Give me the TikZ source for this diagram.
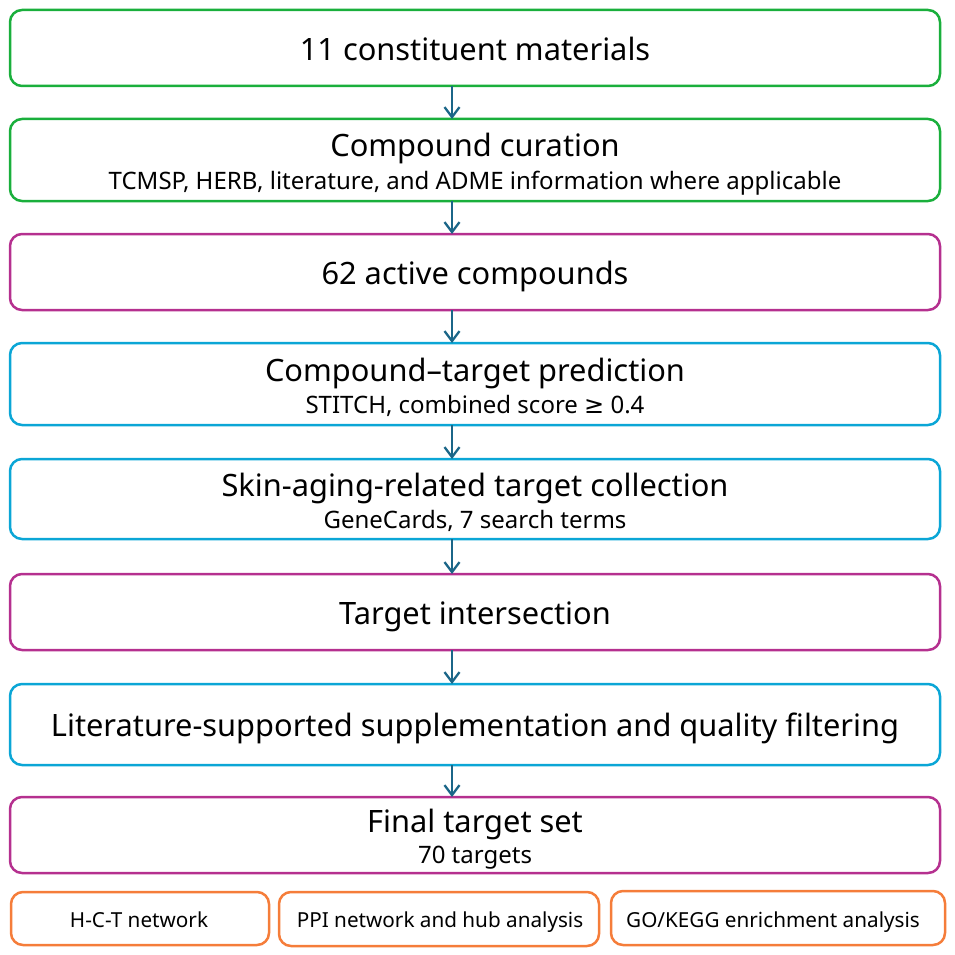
\documentclass[tikz,border=0pt]{standalone}
\usepackage{fontspec}
\setmainfont{Noto Sans}
\newfontfamily\symfont{DejaVu Sans}
\usetikzlibrary{arrows.meta}
\definecolor{cgreen}{HTML}{1AAF3C}
\definecolor{cmag}{HTML}{B5308F}
\definecolor{ccyan}{HTML}{0BA6D6}
\definecolor{corange}{HTML}{F57D3A}
\definecolor{carrow}{HTML}{1B6688}
\begin{document}
\begin{tikzpicture}[x=1pt,y=-1pt,
  box/.style={draw, line width=2.5pt, rounded corners=12pt},
  title/.style={font=\fontsize{30.8}{32}\selectfont, anchor=base, inner sep=0pt},
  sub/.style={font=\fontsize{24}{26}\selectfont, anchor=base, inner sep=0pt},
  small/.style={font=\fontsize{20.7}{22}\selectfont, anchor=base, inner sep=0pt},
  flow/.style={draw=carrow, line width=2.3pt, -{Straight Barb[length=10pt,width=15pt,line width=2.3pt]}}]
\useasboundingbox (0,0) rectangle (954,955);
% boxes
\draw[box, cgreen] (10,10) rectangle (940,86); \coordinate (b1t) at (452,86);
\node[title] (t1) at (475,60.7) {11 constituent materials};
\draw[box, cgreen] (10,119) rectangle (940,201);
\coordinate (b2a) at (452,119); \coordinate (b2b) at (452,201);
\node[title] (t2) at (475,157) {Compound curation};
\node[sub] (s2) at (475,189.3) {TCMSP, HERB, literature, and ADME information where applicable};
\draw[box, cmag] (10,234) rectangle (940,310);
\coordinate (b3a) at (452,234); \coordinate (b3b) at (452,310);
\node[title] (t3) at (475,284) {62 active compounds};
\draw[box, ccyan] (10,343) rectangle (940,425);
\coordinate (b4a) at (452,343); \coordinate (b4b) at (452,425);
\node[title] (t4) at (475,381.7) {Compound–target prediction};
\node[sub] (s4) at (475,413.3) {STITCH, combined score {\symfont ≥} 0.4};
\draw[box, ccyan] (10,459) rectangle (940,539);
\coordinate (b5a) at (452,459); \coordinate (b5b) at (452,539);
\node[title] (t5) at (475,496.7) {Skin-aging-related target collection};
\node[sub] (s5) at (475,528.3) {GeneCards, 7 search terms};
\draw[box, cmag] (10,574) rectangle (940,650);
\coordinate (b6a) at (452,574); \coordinate (b6b) at (452,650);
\node[title] (t6) at (475,624) {Target intersection};
\draw[box, ccyan] (10,684) rectangle (940,765);
\coordinate (b7a) at (452,684); \coordinate (b7b) at (452,765);
\node[title] (t7) at (475,736.7) {Literature-supported supplementation and quality filtering};
\draw[box, cmag] (10,797) rectangle (940,873);
\coordinate (b8a) at (452,797);
\node[title] (t8) at (475,832.7) {Final target set};
\node[sub] (s8) at (475,863.3) {70 targets};
% bottom
\draw[box, corange] (11,892) rectangle (269,945);
\node[small] (ba) at (139,927) {H-C-T network};
\draw[box, corange] (279,892) rectangle (599,946);
\node[small] (bb) at (440,927) {PPI network and hub analysis};
\draw[box, corange] (611,891) rectangle (945,945);
\node[small] (bc) at (773,927) {GO/KEGG enrichment analysis};
% arrows
\draw[flow] (b1t) -- (b2a);
\draw[flow] (b2b) -- (b3a);
\draw[flow] (b3b) -- (b4a);
\draw[flow] (b4b) -- (b5a);
\draw[flow] (b5b) -- (b6a);
\draw[flow] (b6b) -- (b7a);
\draw[flow] (b7b) -- (b8a);
\end{tikzpicture}
\end{document}
